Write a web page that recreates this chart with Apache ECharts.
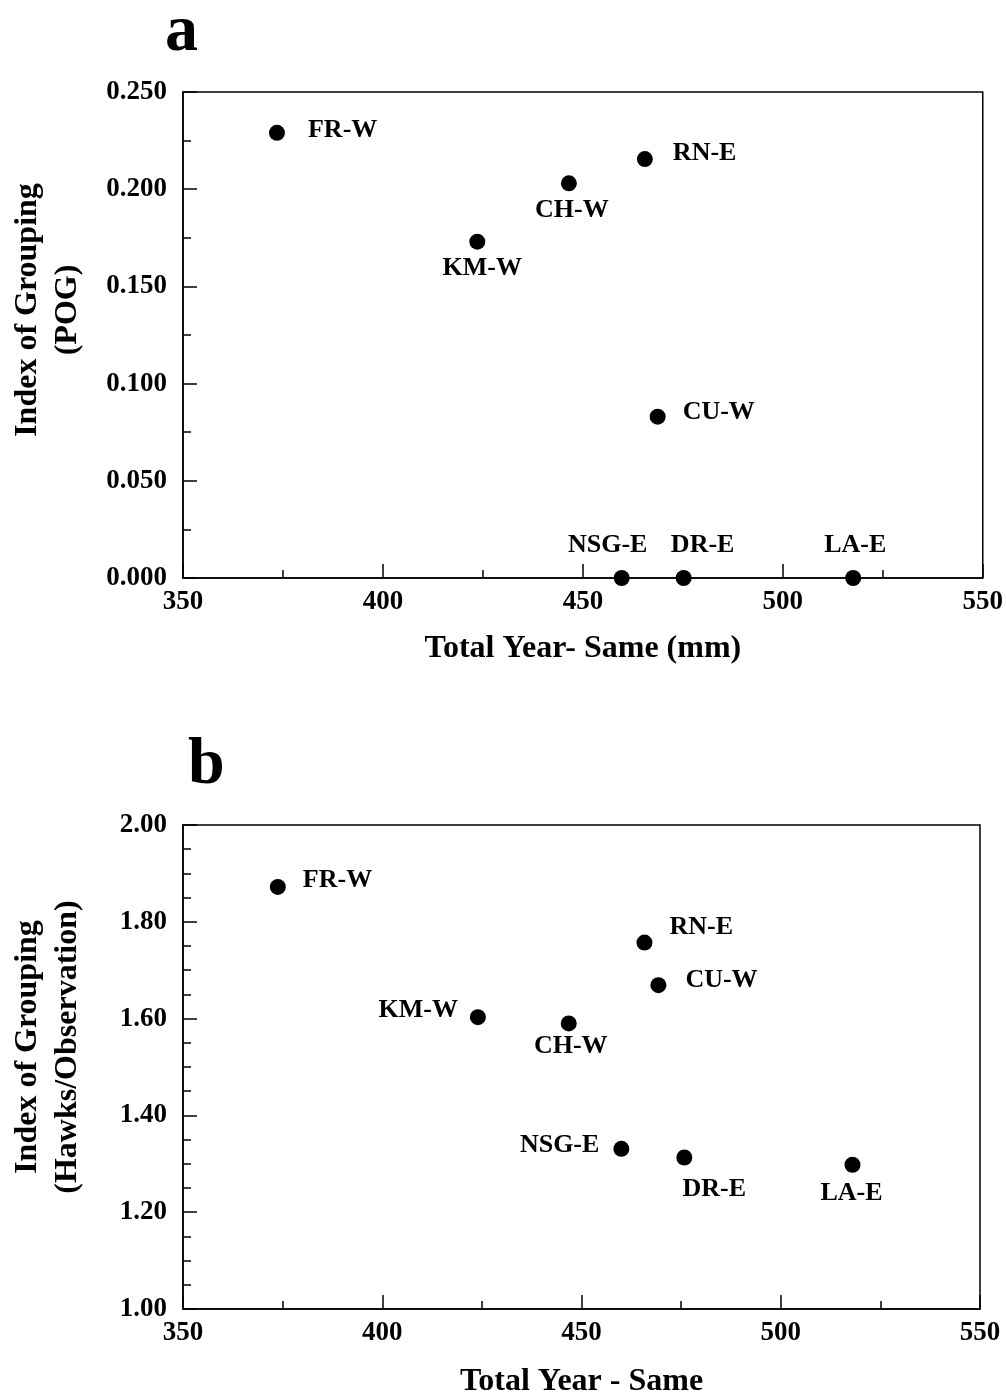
<!DOCTYPE html>
<html>
<head>
<meta charset="utf-8">
<script src="https://cdn.jsdelivr.net/npm/echarts@6/dist/echarts.min.js"></script>
<style>
  html, body { margin: 0; padding: 0; background: #fff; }
  #chart { width: 1006px; height: 1399px; }
</style>
</head>
<body>
<div id="chart"></div>
<script>
// 站点名称
const sites = ["FR-W", "CH-W", "RN-E", "KM-W", "CU-W", "NSG-E", "DR-E", "LA-E"];

// a: 年降水量 vs POG
const rainA = [373.5, 446.5, 465.5, 423.6, 468.7, 459.7, 475.2, 517.6];
const pogA = [0.229, 0.203, 0.2155, 0.173, 0.083, 0, 0, 0];

// b: 年降水量 vs Hawks/Observation
const rainB = [373.8, 446.8, 465.8, 424.0, 469.3, 460.0, 475.8, 518.0];
const hawksB = [1.872, 1.590, 1.757, 1.603, 1.669, 1.331, 1.313, 1.298];

const xTicks = [350, 400, 450, 500, 550];
const yTicksA = [0, 0.05, 0.1, 0.15, 0.2, 0.25];
const yTicksB = [1.0, 1.2, 1.4, 1.6, 1.8, 2.0];

// 标签摆放（位置、偏移）
const placeA = {
  "FR-W": ["right", 23, 0, -3], "CH-W": ["bottom", 6, 3, 0], "RN-E": ["right", 20, 0, -6],
  "KM-W": ["bottom", 6, 5, 0], "CU-W": ["right", 17, 0, -4], "NSG-E": ["top", 12, -14, 0],
  "DR-E": ["top", 12, 19, 0], "LA-E": ["top", 12, 2, 0]
};
const placeB = {
  "FR-W": ["right", 17, 0, -7], "CH-W": ["bottom", 2, 2, 0], "RN-E": ["right", 17, 0, -15],
  "KM-W": ["left", 12, 0, -7], "CU-W": ["right", 19, 0, -5], "NSG-E": ["left", 14, 0, -4],
  "DR-E": ["bottom", 11, 30, 0], "LA-E": ["bottom", 8, -1, 0]
};

const font = "'Liberation Serif', 'Times New Roman', serif";

function makeData(xs, ys, place) {
  return sites.map((s, i) => {
    const p = place[s];
    return {
      name: s,
      value: [xs[i], ys[i]],
      label: { position: p[0], distance: p[1], offset: [p[2], p[3]] }
    };
  });
}

function xAxis(idx, name, gap) {
  return {
    type: "value", gridIndex: idx, min: xTicks[0], max: xTicks[xTicks.length - 1], interval: 50,
    name: name, nameLocation: "middle", nameGap: gap,
    nameTextStyle: { fontFamily: font, fontWeight: "bold", fontSize: 32, color: "#000" },
    axisLine: { lineStyle: { color: "#000", width: 1.5 } },
    axisTick: { inside: true, length: 14, lineStyle: { color: "#000", width: 1.5 } },
    minorTick: { show: true, splitNumber: 2, length: 8, lineStyle: { color: "#000", width: 1.5 } },
    splitLine: { show: false },
    axisLabel: { margin: 11, fontFamily: font, fontWeight: "bold", fontSize: 27, color: "#000" }
  };
}

function yAxis(idx, ticks, name, digits, minorSplit, pad) {
  return {
    type: "value", gridIndex: idx, min: ticks[0], max: ticks[ticks.length - 1],
    interval: ticks[1] - ticks[0],
    name: name, nameLocation: "middle", nameGap: 95, nameRotate: 90,
    nameTextStyle: {
      fontFamily: font, fontWeight: "bold", fontSize: 32, color: "#000",
      lineHeight: 40, padding: [0, 0, 0, pad]
    },
    axisLine: { lineStyle: { color: "#000", width: 1.5 } },
    axisTick: { inside: true, length: 14, lineStyle: { color: "#000", width: 1.5 } },
    minorTick: { show: true, splitNumber: minorSplit, length: 8, lineStyle: { color: "#000", width: 1.5 } },
    splitLine: { show: false },
    axisLabel: {
      margin: 16, fontFamily: font, fontWeight: "bold", fontSize: 27, color: "#000",
      formatter: v => v.toFixed(digits)
    }
  };
}

function series(idx, xs, ys, place) {
  return {
    type: "scatter", xAxisIndex: idx, yAxisIndex: idx,
    symbol: "circle", symbolSize: 16,
    itemStyle: { color: "#000", opacity: 1 },
    label: {
      show: true, formatter: "{b}",
      fontFamily: font, fontWeight: "bold", fontSize: 26, color: "#000"
    },
    data: makeData(xs, ys, place)
  };
}

const chart = echarts.init(document.getElementById("chart"));
const option = {
  backgroundColor: "#fff",
  animation: false,
  title: [
    { text: "a", left: 160, top: -5, textStyle: { fontFamily: font, fontWeight: "bold", fontSize: 66, color: "#000" } },
    { text: "b", left: 183, top: 728, textStyle: { fontFamily: font, fontWeight: "bold", fontSize: 66, color: "#000" } }
  ],
  grid: [
    { left: 183, top: 92, width: 802, height: 486, show: true, borderColor: "#000", borderWidth: 1.5 },
    { left: 180, top: 825, width: 800, height: 486, show: true, borderColor: "#000", borderWidth: 1.5 }
  ],
  xAxis: [xAxis(0, "Total Year- Same (mm)", 55), xAxis(1, "Total Year - Same", 57)],
  yAxis: [
    yAxis(0, yTicksA, "Index of Grouping\n(POG)", 3, 2, 50),
    yAxis(1, yTicksB, "Index of Grouping\n(Hawks/Observation)", 2, 4, 40)
  ],
  series: [series(0, rainA, pogA, placeA), series(1, rainB, hawksB, placeB)]
};
option && chart.setOption(option);
</script>
</body>
</html>
